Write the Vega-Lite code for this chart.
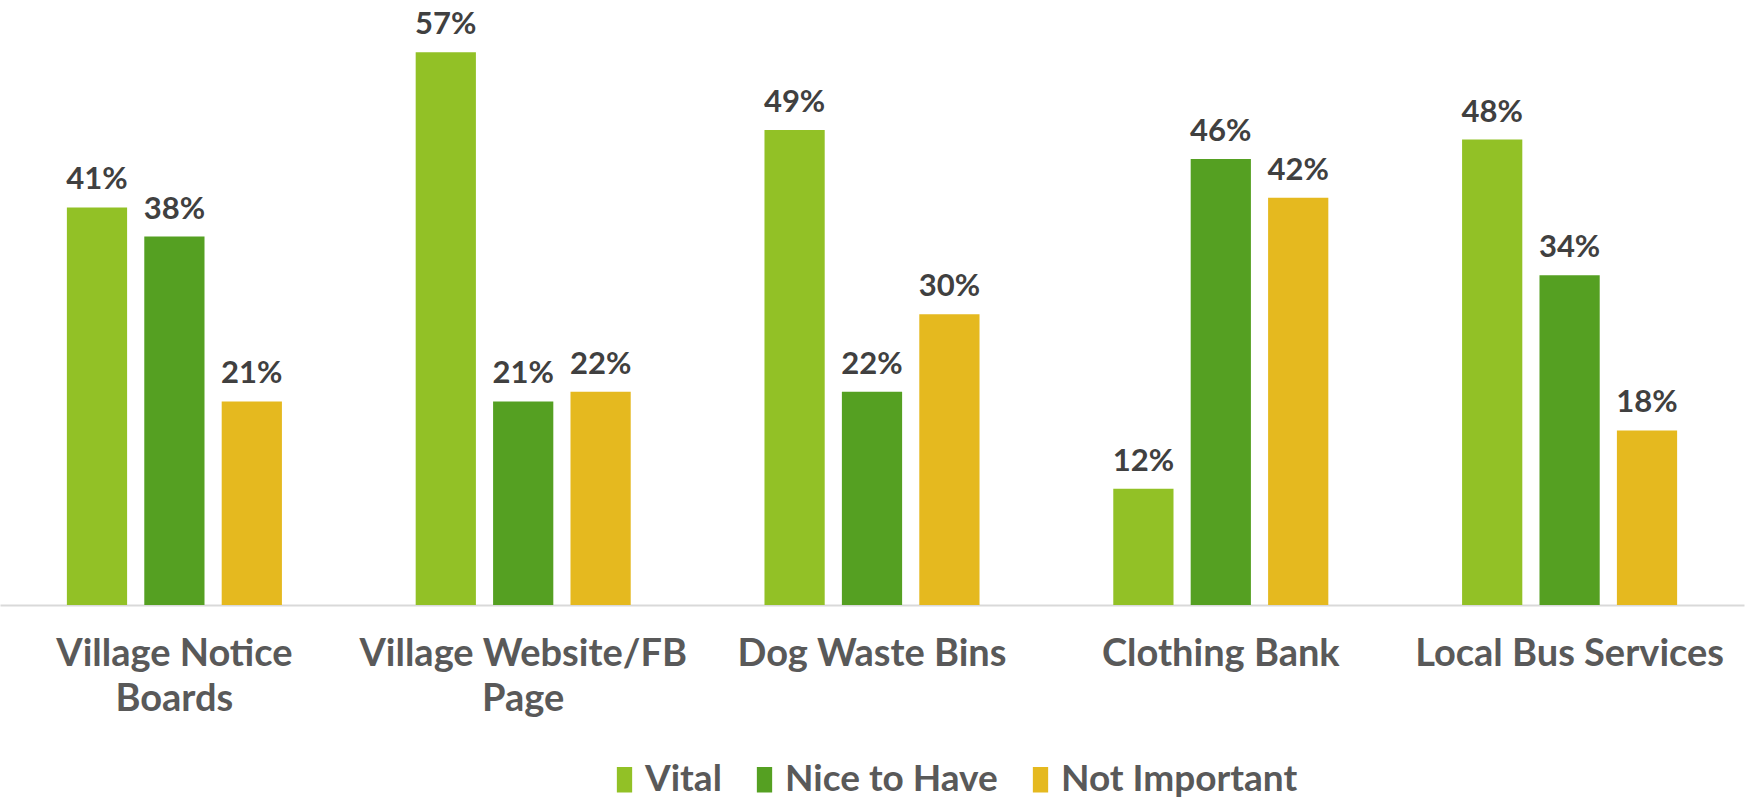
{
  "$schema": "https://vega.github.io/schema/vega-lite/v6.json",
  "width": 1744,
  "height": 605,
  "autosize": {"type": "none"},
  "padding": {"left": 0, "top": 0, "right": 3, "bottom": 196},
  "background": "white",
  "config": {"view": {"stroke": null}},
  "data": {
    "values": [
      {"item": "Village Notice Boards", "rating": "Vital", "pct": 0.41},
      {"item": "Village Notice Boards", "rating": "Nice to Have", "pct": 0.38},
      {"item": "Village Notice Boards", "rating": "Not Important", "pct": 0.21},
      {"item": "Village Website/FB Page", "rating": "Vital", "pct": 0.57},
      {"item": "Village Website/FB Page", "rating": "Nice to Have", "pct": 0.21},
      {"item": "Village Website/FB Page", "rating": "Not Important", "pct": 0.22},
      {"item": "Dog Waste Bins", "rating": "Vital", "pct": 0.49},
      {"item": "Dog Waste Bins", "rating": "Nice to Have", "pct": 0.22},
      {"item": "Dog Waste Bins", "rating": "Not Important", "pct": 0.30},
      {"item": "Clothing Bank", "rating": "Vital", "pct": 0.12},
      {"item": "Clothing Bank", "rating": "Nice to Have", "pct": 0.46},
      {"item": "Clothing Bank", "rating": "Not Important", "pct": 0.42},
      {"item": "Local Bus Services", "rating": "Vital", "pct": 0.48},
      {"item": "Local Bus Services", "rating": "Nice to Have", "pct": 0.34},
      {"item": "Local Bus Services", "rating": "Not Important", "pct": 0.18}
    ]
  },
  "encoding": {
    "x": {
      "field": "item",
      "type": "nominal",
      "sort": null,
      "scale": {"paddingInner": 0, "paddingOuter": 0},
      "axis": {
        "title": null,
        "domainColor": "#d9d9d9",
        "domainWidth": 2,
        "ticks": false,
        "labelAngle": 0,
        "labelFont": "Lato",
        "labelFontWeight": "bold",
        "labelFontSize": 38,
        "labelColor": "#595959",
        "labelPadding": 30,
        "labelLineHeight": 45,
        "labelLimit": 0,
        "labelOverlap": false,
        "labelExpr": "datum.value == 'Village Notice Boards' ? ['Village Notice', 'Boards'] : datum.value == 'Village Website/FB Page' ? ['Village Website/FB', 'Page'] : datum.value"
      }
    },
    "xOffset": {
      "field": "rating",
      "type": "nominal",
      "sort": ["Vital", "Nice to Have", "Not Important"],
      "scale": {"paddingInner": 0.222, "paddingOuter": 0.864}
    },
    "y": {
      "field": "pct",
      "type": "quantitative",
      "scale": {"domain": [0, 0.624], "nice": false},
      "axis": null
    }
  },
  "layer": [
    {
      "mark": {"type": "bar"},
      "encoding": {
        "color": {
          "field": "rating",
          "type": "nominal",
          "sort": ["Vital", "Nice to Have", "Not Important"],
          "scale": {"domain": ["Vital", "Nice to Have", "Not Important"], "range": ["#92c126", "#55a022", "#e5b91f"]},
          "legend": {
            "title": null,
            "orient": "none",
            "direction": "horizontal",
            "legendX": 606,
            "legendY": 761,
            "symbolType": "M-0.6,-1H0.6V1H-0.6Z",
            "symbolSize": 650,
            "symbolStrokeWidth": 0,
            "labelFont": "Lato",
            "labelFontWeight": "bold",
            "labelFontSize": 37,
            "labelColor": "#595959",
            "labelOffset": 2,
            "columnPadding": 24,
            "labelLimit": 400
          }
        }
      }
    },
    {
      "mark": {"type": "text", "baseline": "bottom", "dy": -11, "font": "Lato", "fontWeight": "bold", "fontSize": 31, "color": "#404040"},
      "encoding": {
        "text": {"field": "pct", "type": "quantitative", "format": ".0%"}
      }
    }
  ]
}
